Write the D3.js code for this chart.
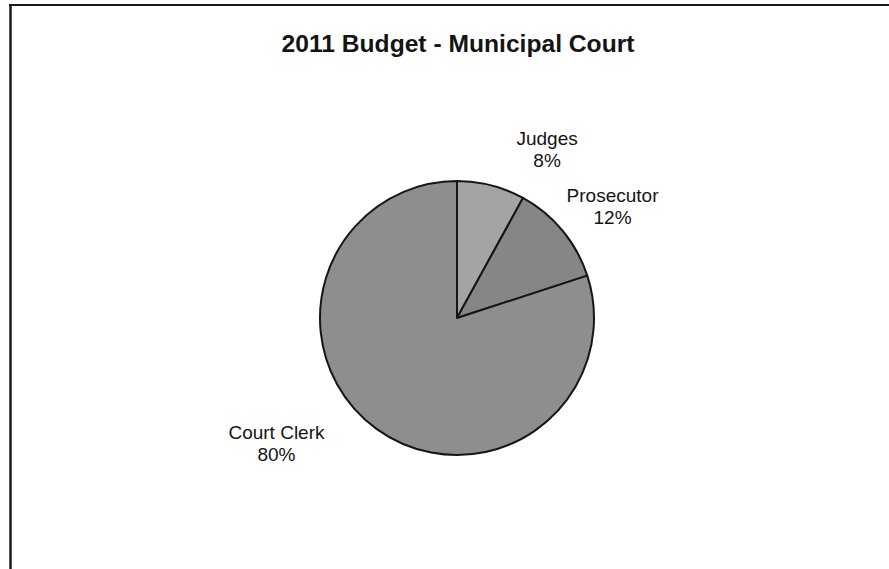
<!DOCTYPE html>
<html>
<head>
<meta charset="utf-8">
<script src="https://cdn.jsdelivr.net/npm/d3@7/dist/d3.min.js"></script>
<style>
  html, body { margin: 0; padding: 0; background: #fff; }
  svg { display: block; }
  text { font-family: "Liberation Sans", Arial, sans-serif; fill: #141414; }
</style>
</head>
<body>
<svg id="chart" width="889" height="569"></svg>
<script>
// 2011 budget shares for the Municipal Court
const categories = ["Judges", "Prosecutor", "Court Clerk"];
const shares = [8, 12, 80];
const sliceColors = ["#a4a4a4", "#868686", "#8e8e8e"];
const chartTitle = "2011 Budget - Municipal Court";

// label nudges from the slice's outer edge (dx, dy of first baseline)
const labelNudge = [[56, -40], [50, -29], [-100, 10]];

const W = 889, H = 569;
const cx = 457, cy = 318, R = 137;

const svg = d3.select("#chart");

// frame: top and left rules
svg.append("line").attr("x1", 9).attr("x2", W).attr("y1", 5).attr("y2", 5)
  .attr("stroke", "#1a1a1a").attr("stroke-width", 2);
svg.append("line").attr("x1", 10.5).attr("x2", 10.5).attr("y1", 4).attr("y2", H)
  .attr("stroke", "#1a1a1a").attr("stroke-width", 2.5);

// title
svg.append("text")
  .attr("x", 458).attr("y", 52)
  .attr("text-anchor", "middle")
  .attr("font-size", 23).attr("font-weight", "bold")
  .attr("textLength", 353).attr("lengthAdjust", "spacingAndGlyphs")
  .text(chartTitle);

const data = categories.map((c, i) => ({ name: c, value: shares[i], color: sliceColors[i], nudge: labelNudge[i] }));

const pie = d3.pie().value(d => d.value).sort(null);
const arc = d3.arc().innerRadius(0).outerRadius(R);

const g = svg.append("g").attr("transform", `translate(${cx},${cy})`);
const arcs = pie(data);

g.selectAll("path.slice")
  .data(arcs)
  .join("path")
  .attr("class", "slice")
  .attr("d", arc)
  .attr("fill", d => d.data.color)
  .attr("stroke", "#161616")
  .attr("stroke-width", 2)
  .attr("stroke-linejoin", "round");

// labels: name on the first line, percentage below
const total = d3.sum(shares);
const labels = g.selectAll("text.lbl")
  .data(arcs)
  .join("text")
  .attr("class", "lbl")
  .attr("text-anchor", "middle")
  .attr("font-size", 19)
  .attr("transform", d => {
    const a = (d.startAngle + d.endAngle) / 2;
    const x = Math.sin(a) * R + d.data.nudge[0];
    const y = -Math.cos(a) * R + d.data.nudge[1];
    return `translate(${x},${y})`;
  });
labels.append("tspan").attr("x", 0).attr("y", 0).text(d => d.data.name);
labels.append("tspan").attr("x", 0).attr("y", 22)
  .text(d => Math.round(d.data.value / total * 100) + "%");
</script>
</body>
</html>
